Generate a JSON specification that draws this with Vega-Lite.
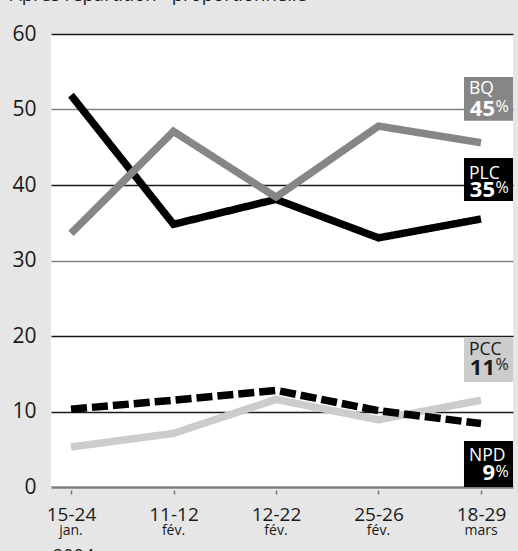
{
  "$schema": "https://vega.github.io/schema/vega-lite/v6.json",
  "width": 462,
  "height": 453,
  "autosize": {"type": "none"},
  "padding": {"left": 51, "top": 34, "right": 5, "bottom": 64},
  "background": "#e6e6e6",
  "config": {
    "view": {"fill": "#ffffff", "stroke": null},
    "font": "Open Sans",
    "text": {"font": "Open Sans"}
  },
  "datasets": {
    "polls": [
      {"period": "15-24", "month": "jan.", "party": "PLC", "pct": 51.9},
      {"period": "11-12", "month": "fév.", "party": "PLC", "pct": 34.8},
      {"period": "12-22", "month": "fév.", "party": "PLC", "pct": 38.1},
      {"period": "25-26", "month": "fév.", "party": "PLC", "pct": 33.0},
      {"period": "18-29", "month": "mars", "party": "PLC", "pct": 35.5},
      {"period": "15-24", "month": "jan.", "party": "BQ", "pct": 33.6},
      {"period": "11-12", "month": "fév.", "party": "BQ", "pct": 47.1},
      {"period": "12-22", "month": "fév.", "party": "BQ", "pct": 38.4},
      {"period": "25-26", "month": "fév.", "party": "BQ", "pct": 47.8},
      {"period": "18-29", "month": "mars", "party": "BQ", "pct": 45.6},
      {"period": "15-24", "month": "jan.", "party": "PCC", "pct": 5.3},
      {"period": "11-12", "month": "fév.", "party": "PCC", "pct": 7.1},
      {"period": "12-22", "month": "fév.", "party": "PCC", "pct": 11.6},
      {"period": "25-26", "month": "fév.", "party": "PCC", "pct": 8.9},
      {"period": "18-29", "month": "mars", "party": "PCC", "pct": 11.5},
      {"period": "15-24", "month": "jan.", "party": "NPD", "pct": 10.3},
      {"period": "11-12", "month": "fév.", "party": "NPD", "pct": 11.5},
      {"period": "12-22", "month": "fév.", "party": "NPD", "pct": 12.8},
      {"period": "25-26", "month": "fév.", "party": "NPD", "pct": 10.1},
      {"period": "18-29", "month": "mars", "party": "NPD", "pct": 8.4}
    ],
    "labels": [
      {"party": "BQ", "score": "45"},
      {"party": "PLC", "score": "35"},
      {"party": "PCC", "score": "11"},
      {"party": "NPD", "score": "9"}
    ],
    "notes": [
      {"kind": "title", "note": "Après répartition* proportionnelle"},
      {"kind": "year", "note": "2004"}
    ]
  },
  "encoding": {
    "x": {
      "field": "period",
      "type": "ordinal",
      "scale": {"type": "point", "domain": ["15-24", "11-12", "12-22", "25-26", "18-29"], "padding": 0.2537, "align": 0.3846},
      "axis": {
        "title": null,
        "labelAngle": 0,
        "domain": false,
        "offset": 3,
        "tickSize": 4,
        "tickWidth": 1.5,
        "tickColor": "#777777",
        "labelBaseline": "alphabetic",
        "labelPadding": 26,
        "labelFontSize": 19,
        "labelColor": "#1a1a1a",
        "labelFont": "Open Sans"
      }
    },
    "color": {
      "field": "party",
      "type": "nominal",
      "scale": {"domain": ["PLC", "BQ", "PCC", "NPD"], "range": ["#000000", "#868686", "#cccccc", "#000000"]},
      "legend": null
    }
  },
  "layer": [
    {
      "data": {"name": "polls"},
      "mark": {"type": "line", "strokeWidth": 7.5, "strokeCap": "butt", "strokeJoin": "miter"},
      "encoding": {
        "y": {
          "field": "pct",
          "type": "quantitative",
          "scale": {"domain": [0, 60], "nice": false, "zero": true},
          "axis": {
            "title": null,
            "values": [0, 10, 20, 30, 40, 50, 60],
            "domain": false,
            "ticks": false,
            "tickSize": 0,
            "labelPadding": 15,
            "labelFontSize": 21,
            "labelColor": "#1a1a1a",
            "labelFont": "Open Sans",
            "grid": true,
            "gridOpacity": 1,
            "gridColor": {"condition": {"test": "datum.value === 50 || datum.value === 30 || datum.value === 0", "value": "#808080"}, "value": "#1a1a1a"},
            "gridWidth": {"condition": {"test": "datum.value === 0", "value": 2.5}, "value": 1.4}
          }
        },
        "strokeDash": {
          "field": "party",
          "type": "nominal",
          "scale": {"domain": ["PLC", "BQ", "PCC", "NPD"], "range": [[1, 0], [1, 0], [1, 0], [16, 5]]},
          "legend": null
        }
      }
    },
    {
      "data": {"name": "polls"},
      "transform": [{"filter": "datum.party === 'PLC'"}],
      "mark": {"type": "text", "fontSize": 14, "baseline": "alphabetic", "align": "center", "fill": "#1a1a1a"},
      "encoding": {
        "y": {"datum": -6.36, "type": "quantitative"},
        "text": {"field": "month"},
        "color": null
      }
    },
    {
      "data": {"name": "notes"},
      "transform": [{"filter": "datum.kind === 'title'"}],
      "mark": {"type": "text", "fontSize": 18.5, "baseline": "alphabetic", "align": "left", "dx": -61, "fill": "#1a1a1a"},
      "encoding": {
        "x": {"datum": "15-24", "type": "ordinal"},
        "y": {"datum": 64.4, "type": "quantitative"},
        "text": {"field": "note"},
        "color": null
      }
    },
    {
      "data": {"name": "notes"},
      "transform": [{"filter": "datum.kind === 'year'"}],
      "mark": {"type": "text", "fontSize": 18, "baseline": "alphabetic", "align": "left", "dx": -18, "fill": "#1a1a1a"},
      "encoding": {
        "x": {"datum": "15-24", "type": "ordinal"},
        "y": {"datum": -9.95, "type": "quantitative"},
        "text": {"field": "note"},
        "color": null
      }
    },
    {
      "data": {"name": "labels"},
      "transform": [{"filter": "datum.party === 'BQ'"}],
      "encoding": {"x": {"datum": "18-29", "type": "ordinal"}},
      "layer": [
        {"mark": {"type": "rect", "width": 49, "xOffset": 7.5}, "encoding": {"y": {"datum": 54.3, "type": "quantitative"}, "y2": {"datum": 48.5}}},
        {"mark": {"type": "text", "align": "left", "baseline": "alphabetic", "dx": -12, "fontSize": 17.5, "fill": "#ffffff"}, "encoding": {"y": {"datum": 52.05, "type": "quantitative"}, "text": {"field": "party"}, "color": null}},
        {"mark": {"type": "text", "align": "right", "baseline": "alphabetic", "dx": 14, "fontSize": 22, "fontWeight": "bold", "fill": "#ffffff"}, "encoding": {"y": {"datum": 49.14, "type": "quantitative"}, "text": {"field": "score"}, "color": null}},
        {"mark": {"type": "text", "align": "left", "baseline": "alphabetic", "dx": 14.5, "fontSize": 16, "fill": "#ffffff", "text": "%"}, "encoding": {"y": {"datum": 49.67, "type": "quantitative"}, "color": null}}
      ]
    },
    {
      "data": {"name": "labels"},
      "transform": [{"filter": "datum.party === 'PLC'"}],
      "encoding": {"x": {"datum": "18-29", "type": "ordinal"}},
      "layer": [
        {"mark": {"type": "rect", "width": 49, "xOffset": 7.5}, "encoding": {"y": {"datum": 43.58, "type": "quantitative"}, "y2": {"datum": 37.88}}},
        {"mark": {"type": "text", "align": "left", "baseline": "alphabetic", "dx": -12, "fontSize": 17.5, "fill": "#ffffff"}, "encoding": {"y": {"datum": 40.79, "type": "quantitative"}, "text": {"field": "party"}, "color": null}},
        {"mark": {"type": "text", "align": "right", "baseline": "alphabetic", "dx": 14, "fontSize": 22, "fontWeight": "bold", "fill": "#ffffff"}, "encoding": {"y": {"datum": 38.41, "type": "quantitative"}, "text": {"field": "score"}, "color": null}},
        {"mark": {"type": "text", "align": "left", "baseline": "alphabetic", "dx": 14.5, "fontSize": 16, "fill": "#ffffff", "text": "%"}, "encoding": {"y": {"datum": 38.94, "type": "quantitative"}, "color": null}}
      ]
    },
    {
      "data": {"name": "labels"},
      "transform": [{"filter": "datum.party === 'PCC'"}],
      "encoding": {"x": {"datum": "18-29", "type": "ordinal"}},
      "layer": [
        {"mark": {"type": "rect", "width": 49, "xOffset": 7.5}, "encoding": {"y": {"datum": 19.87, "type": "quantitative"}, "y2": {"datum": 13.91}}},
        {"mark": {"type": "text", "align": "left", "baseline": "alphabetic", "dx": -12, "fontSize": 17.5, "fill": "#1a1a1a"}, "encoding": {"y": {"datum": 17.48, "type": "quantitative"}, "text": {"field": "party"}, "color": null}},
        {"mark": {"type": "text", "align": "right", "baseline": "alphabetic", "dx": 14, "fontSize": 22, "fontWeight": "bold", "fill": "#1a1a1a"}, "encoding": {"y": {"datum": 14.83, "type": "quantitative"}, "text": {"field": "score"}, "color": null}},
        {"mark": {"type": "text", "align": "left", "baseline": "alphabetic", "dx": 14.5, "fontSize": 16, "fill": "#1a1a1a", "text": "%"}, "encoding": {"y": {"datum": 15.5, "type": "quantitative"}, "color": null}}
      ]
    },
    {
      "data": {"name": "labels"},
      "transform": [{"filter": "datum.party === 'NPD'"}],
      "encoding": {"x": {"datum": "18-29", "type": "ordinal"}},
      "layer": [
        {"mark": {"type": "rect", "width": 49, "xOffset": 7.5}, "encoding": {"y": {"datum": 6.09, "type": "quantitative"}, "y2": {"datum": 0}}},
        {"mark": {"type": "text", "align": "left", "baseline": "alphabetic", "dx": -12, "fontSize": 17.5, "fill": "#ffffff"}, "encoding": {"y": {"datum": 3.38, "type": "quantitative"}, "text": {"field": "party"}, "color": null}},
        {"mark": {"type": "text", "align": "right", "baseline": "alphabetic", "dx": 14, "fontSize": 22, "fontWeight": "bold", "fill": "#ffffff"}, "encoding": {"y": {"datum": 0.93, "type": "quantitative"}, "text": {"field": "score"}, "color": null}},
        {"mark": {"type": "text", "align": "left", "baseline": "alphabetic", "dx": 14.5, "fontSize": 16, "fill": "#ffffff", "text": "%"}, "encoding": {"y": {"datum": 1.32, "type": "quantitative"}, "color": null}}
      ]
    }
  ]
}
